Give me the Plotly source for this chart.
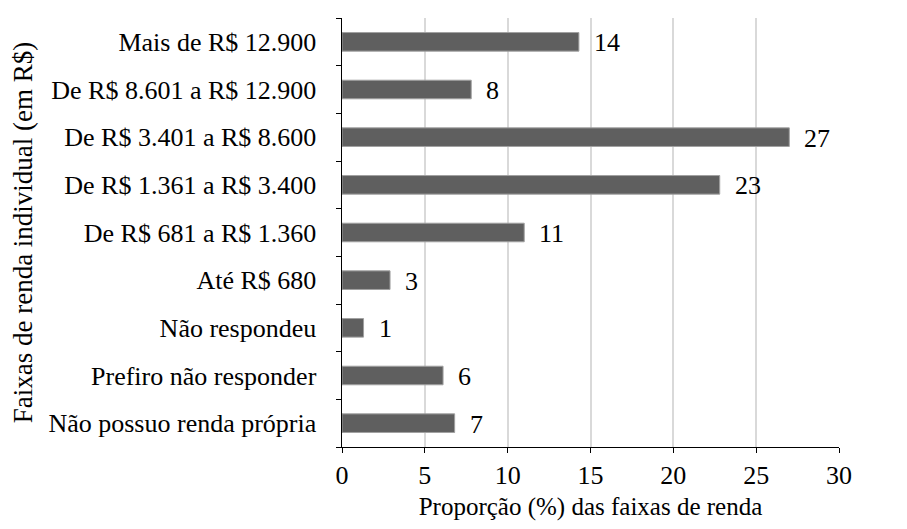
import plotly.graph_objects as go

# faixas de renda, de baixo para cima
categories = [
    "Não possuo renda própria",
    "Prefiro não responder",
    "Não respondeu",
    "Até R$ 680",
    "De R$ 681 a R$ 1.360",
    "De R$ 1.361 a R$ 3.400",
    "De R$ 3.401 a R$ 8.600",
    "De R$ 8.601 a R$ 12.900",
    "Mais de R$ 12.900",
]
proportions = [6.8, 6.1, 1.3, 2.9, 11.0, 22.8, 27.0, 7.8, 14.3]
labels = ["7", "6", "1", "3", "11", "23", "27", "8", "14"]
x_ticks = [0, 5, 10, 15, 20, 25, 30]

FONT = "Liberation Serif"
tick_font = dict(family=FONT, size=26, color="#000000")

fig = go.Figure()
fig.add_bar(
    x=proportions,
    y=categories,
    orientation="h",
    width=0.39,
    marker=dict(color="#5f5f5f", line=dict(color="#a0a0a0", width=1)),
    hoverinfo="x+y",
)

for cat, val, lab in zip(categories, proportions, labels):
    fig.add_annotation(
        x=val, y=cat, text=lab, showarrow=False,
        xanchor="left", xshift=13, yshift=-1,
        font=tick_font,
    )

fig.update_layout(
    width=907,
    height=529,
    margin=dict(l=334, r=76, t=10, b=90),
    plot_bgcolor="white",
    paper_bgcolor="white",
    showlegend=False,
    font=tick_font,
)
fig.update_xaxes(
    range=[0, 30],
    tickvals=x_ticks,
    tickfont=tick_font,
    showgrid=True,
    gridcolor="#d9d9d9",
    gridwidth=1.5,
    zeroline=False,
    showline=True,
    linecolor="#000000",
    linewidth=1,
    ticks="outside",
    ticklen=5,
    tickcolor="#000000",
    title=dict(text="Proporção (%) das faixas de renda",
               font=dict(family=FONT, size=25, color="#000000"), standoff=8),
)
fig.update_yaxes(
    categoryorder="array",
    categoryarray=categories,
    tickfont=tick_font,
    showgrid=False,
    showline=True,
    linecolor="#000000",
    linewidth=1,
    ticks="outside",
    ticklen=5,
    tickcolor="#000000",
    tickson="boundaries",
    ticksuffix="   ",
    title=dict(text="Faixas de renda individual (em R$)",
               font=dict(family=FONT, size=27, color="#000000"), standoff=9),
)

fig.write_html("out.html")
